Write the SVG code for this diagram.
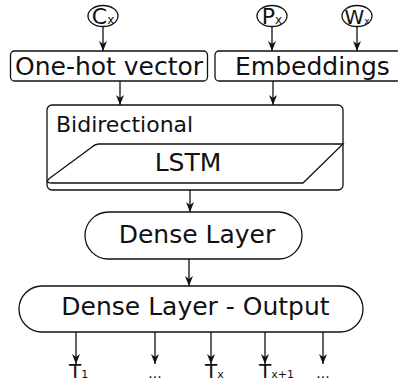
<svg xmlns="http://www.w3.org/2000/svg" width="398" height="383" viewBox="0 0 398 383">
  <defs>
    <marker id="arrow" markerUnits="userSpaceOnUse" markerWidth="10" markerHeight="10" viewBox="0 0 10 10" refX="10" refY="5" orient="auto">
      <path d="M0,1 L10,5 L0,9 L3,5 Z" fill="#111"/>
    </marker>
    <style>
      text { font-family: "DejaVu Sans", "Liberation Sans", sans-serif; fill: #111; }
      .shape { fill: #fff; stroke: #111; stroke-width: 1.3; }
      .conn { fill: none; stroke: #111; stroke-width: 1.3; marker-end: url(#arrow); }
      .big { font-size: 25px; }
      .mid { font-size: 22px; }
      .sym { font-size: 22px; }
      .tl { font-size: 20px; }
      .sub { font-size: 11px; }
      .dots { font-size: 14px; }
    </style>
  </defs>
  <rect width="398" height="383" fill="#fff"/>

  <!-- input symbols -->
  <g id="node-cx">
    <ellipse class="shape" cx="103" cy="16" rx="15" ry="10.5"/>
    <text class="sym" x="103" y="24" text-anchor="middle">C<tspan font-size="12">x</tspan></text>
  </g>
  <g id="node-px">
    <ellipse class="shape" cx="272" cy="16" rx="15" ry="10.5"/>
    <text class="sym" x="272" y="24" text-anchor="middle">P<tspan font-size="12">x</tspan></text>
  </g>
  <g id="node-wx">
    <ellipse class="shape" cx="357" cy="16" rx="15" ry="10.5"/>
    <text x="357" y="23.5" font-size="20" text-anchor="middle">W<tspan font-size="9">x</tspan></text>
  </g>

  <!-- encoders -->
  <g id="node-onehot">
    <rect class="shape" x="10.5" y="51" width="197" height="30" rx="4"/>
    <text class="big" x="15" y="75">One-hot vector</text>
  </g>
  <g id="node-embeddings">
    <rect class="shape" x="215" y="51" width="186" height="30" rx="4"/>
    <text class="big" x="235" y="75">Embeddings</text>
  </g>

  <!-- recurrent block -->
  <g id="node-bidirectional">
    <rect class="shape" x="47" y="105" width="296" height="85" rx="5"/>
    <text class="mid" x="56" y="132">Bidirectional</text>
  </g>
  <g id="node-lstm">
    <path class="shape" d="M99,144 L343,144 L303,183 L52,183 Q44,183 50,178 L92,147 Q95,144 99,144 Z"/>
    <text class="big" x="188" y="171" text-anchor="middle">LSTM</text>
  </g>

  <!-- dense layers -->
  <g id="node-dense">
    <rect class="shape" x="85" y="212" width="217" height="47" rx="23.5"/>
    <text class="big" x="197" y="243" text-anchor="middle">Dense Layer</text>
  </g>
  <g id="node-output">
    <rect class="shape" x="19" y="286" width="344" height="46" rx="23"/>
    <text class="big" x="195.5" y="315" text-anchor="middle">Dense Layer - Output</text>
  </g>

  <!-- output labels -->
  <g id="node-t1"><text class="tl" x="69" y="378">T<tspan class="sub">1</tspan></text></g>
  <g id="node-dots1"><text class="dots" x="155" y="378" text-anchor="middle">...</text></g>
  <g id="node-tx"><text class="tl" x="205" y="378">T<tspan class="sub">x</tspan></text></g>
  <g id="node-tx1"><text class="tl" x="259" y="378">T<tspan class="sub">x+1</tspan></text></g>
  <g id="node-dots2"><text class="dots" x="323" y="378" text-anchor="middle">...</text></g>

  <!-- connectors -->
  <g id="connectors">
    <line class="conn" x1="103" y1="27" x2="103" y2="51"/>
    <line class="conn" x1="272" y1="27" x2="272" y2="51"/>
    <line class="conn" x1="357" y1="27" x2="357" y2="51"/>
    <line class="conn" x1="120" y1="81" x2="120" y2="105"/>
    <line class="conn" x1="273" y1="81" x2="273" y2="105"/>
    <line class="conn" x1="190" y1="190" x2="190" y2="212"/>
    <line class="conn" x1="189" y1="259" x2="189" y2="286"/>
    <line class="conn" x1="76" y1="332" x2="76" y2="364"/>
    <line class="conn" x1="155" y1="332" x2="155" y2="364"/>
    <line class="conn" x1="211" y1="332" x2="211" y2="364"/>
    <line class="conn" x1="265" y1="332" x2="265" y2="364"/>
    <line class="conn" x1="323" y1="332" x2="323" y2="364"/>
  </g>
</svg>
